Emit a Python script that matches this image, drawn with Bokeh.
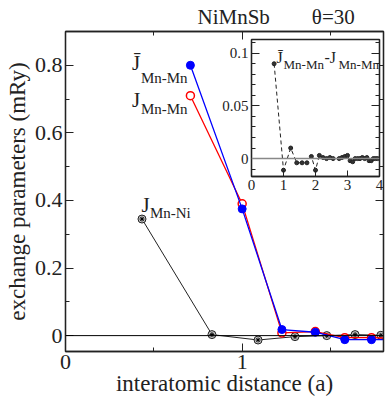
from bokeh.plotting import figure
from bokeh.models import (Range1d, LinearAxis, FixedTicker, Label, Span, Column)
from bokeh.embed import file_html
from bokeh.resources import INLINE

# ---------------- data ----------------
mnmn_dist = [0.707, 1.0, 1.225, 1.414, 1.581, 1.732, 1.871]
jbar_mnmn = [0.800, 0.375, 0.018, 0.010, -0.012, -0.012, -0.012]
j_mnmn = [0.710, 0.390, 0.008, 0.012, -0.006, -0.006, -0.008]

mnni_dist = [0.433, 0.829, 1.090, 1.299, 1.479, 1.639, 1.785, 1.920]
j_mnni = [0.345, 0.003, -0.013, -0.003, 0.000, 0.003, 0.001, 0.000]

diff_dist = [0.707, 1.0, 1.225, 1.414, 1.581, 1.732, 1.871, 2.0, 2.121, 2.236,
             2.345, 2.449, 2.55, 2.739, 2.828, 2.915, 3.0, 3.082, 3.162, 3.24,
             3.317, 3.391, 3.464, 3.536, 3.606, 3.674, 3.742, 3.808, 3.873, 3.937]
diff_j = [0.090, -0.011, 0.010, -0.004, -0.004, -0.004, 0.002, -0.011, 0.003, 0.001,
          0.000, 0.001, 0.000, 0.000, 0.001, 0.002, 0.003, -0.002, -0.003, 0.000,
          0.000, 0.000, 0.001, 0.000, 0.001, -0.002, -0.002, 0.000, 0.000, 0.000]

main_x_ticks = [0, 1]
main_x_labels = ["0", "1"]
main_x_minor = [0.5, 1.5]
main_y_ticks = [0, 0.2, 0.4, 0.6, 0.8]
main_y_labels = ["0", "0.2", "0.4", "0.6", "0.8"]
main_y_minor = [0.1, 0.3, 0.5, 0.7]

ins_x_ticks = [0, 1, 2, 3, 4]
ins_x_labels = ["0", "1", "2", "3", "4"]
ins_y_ticks = [0, 0.05, 0.1]
ins_y_labels = ["0", "0.05", "0.1"]
ins_y_minor = [-0.01, 0.01, 0.02, 0.03, 0.04, 0.06, 0.07, 0.08, 0.09, 0.11]

FONT = "Liberation Serif"
INK = "#222222"


def style(ax, ticks, labels, minor, size, tin, mtin, show=True):
    ax.ticker = FixedTicker(ticks=ticks, minor_ticks=minor)
    ax.major_label_overrides = {t: (l if show else "") for t, l in zip(ticks, labels)}
    ax.major_tick_in = tin
    ax.major_tick_out = 0
    ax.minor_tick_in = mtin
    ax.minor_tick_out = 0
    ax.axis_line_color = INK
    ax.axis_line_width = 1.3
    ax.major_tick_line_color = INK
    ax.minor_tick_line_color = INK
    ax.major_label_text_font = FONT
    ax.major_label_text_font_style = "normal"
    ax.major_label_text_color = INK
    if show:
        ax.major_label_text_font_size = size
        ax.major_label_standoff = 3
    else:
        ax.major_label_text_font_size = "1px"
        ax.major_label_standoff = 0


# ---------------- main plot ----------------
p = figure(width=388, height=405, x_range=Range1d(0, 1.8), y_range=Range1d(-0.047, 0.9),
           output_backend="svg", toolbar_location=None,
           min_border_left=65, min_border_right=3, min_border_top=29, min_border_bottom=54)
p.grid.visible = False
p.outline_line_color = INK
p.outline_line_width = 1.3
p.background_fill_color = "white"
p.border_fill_color = "white"

p.title.text = "NiMnSb" + "\u00a0" * 8 + "\u03b8=30"
p.title.text_font = FONT
p.title.text_font_size = "21px"
p.title.text_font_style = "normal"
p.title.text_color = INK
p.title.align = "left"
p.title.offset = 132
p.title.standoff = 5

style(p.xaxis[0], main_x_ticks, main_x_labels, main_x_minor, "22px", 8, 4)
style(p.yaxis[0], main_y_ticks, main_y_labels, main_y_minor, "22px", 8, 4)
for ax, txt, so in ((p.xaxis[0], "interatomic distance (a)", -1),
                    (p.yaxis[0], "exchange parameters (mRy)", 2)):
    ax.axis_label = txt
    ax.axis_label_text_font = FONT
    ax.axis_label_text_font_size = "23px"
    ax.axis_label_text_font_style = "normal"
    ax.axis_label_text_color = INK
    ax.axis_label_standoff = so

top_ax = LinearAxis()
style(top_ax, main_x_ticks, main_x_labels, main_x_minor, "22px", 8, 4, show=False)
p.add_layout(top_ax, "above")
right_ax = LinearAxis()
style(right_ax, main_y_ticks, main_y_labels, main_y_minor, "22px", 8, 4, show=False)
p.add_layout(right_ax, "right")

p.add_layout(Span(location=0, dimension="width", line_color="black", line_width=1))

p.line(mnni_dist, j_mnni, line_color=INK, line_width=1)
p.scatter(mnni_dist, j_mnni, marker="circle", size=8, fill_color="#c8c8c8",
          line_color=INK, line_width=1)
p.scatter(mnni_dist, j_mnni, marker="asterisk", size=5, line_color="black", line_width=1)

p.line(mnmn_dist, j_mnmn, line_color="#ff0000", line_width=1.3)
p.scatter(mnmn_dist, j_mnmn, marker="circle", size=8, fill_color="white",
          line_color="#ff0000", line_width=1.5)

p.line(mnmn_dist, jbar_mnmn, line_color="#0000ff", line_width=1.3)
p.scatter(mnmn_dist, jbar_mnmn, marker="circle", size=8, fill_color="#0000ff",
          line_color="#0000ff")


def lab(fig, x, y, text, size, **kw):
    fig.add_layout(Label(x=x, y=y, text=text, text_font=FONT, text_font_size=size,
                         text_color=INK, text_baseline="alphabetic", **kw))


lab(p, 0.376, 0.806, "J\u0304", "21px")
lab(p, 0.427, 0.762, "Mn-Mn", "15px")
lab(p, 0.376, 0.697, "J", "21px")
lab(p, 0.427, 0.671, "Mn-Mn", "15px")
lab(p, 0.430, 0.388, "J", "21px")
lab(p, 0.478, 0.362, "Mn-Ni", "15px")

# ---------------- inset ----------------
ins = figure(frame_width=128, frame_height=137,
             x_range=Range1d(0, 4), y_range=Range1d(-0.017, 0.113),
             output_backend="svg", toolbar_location=None,
             min_border_left=64, min_border_right=5, min_border_top=9, min_border_bottom=50)
ins.grid.visible = False
ins.outline_line_color = INK
ins.outline_line_width = 1.3
ins.background_fill_color = "white"
ins.border_fill_alpha = 0
ins.styles = {"position": "absolute", "left": "186px", "top": "30px"}

style(ins.xaxis[0], ins_x_ticks, ins_x_labels, [], "15px", 6, 3)
style(ins.yaxis[0], ins_y_ticks, ins_y_labels, ins_y_minor, "15px", 8, 4)
ins_r = LinearAxis()
style(ins_r, ins_y_ticks, ins_y_labels, ins_y_minor, "15px", 8, 4, show=False)
ins.add_layout(ins_r, "right")

ins.add_layout(Span(location=0, dimension="width", line_color="#888888", line_width=1.5))
ins.line(diff_dist, diff_j, line_color=INK, line_width=1, line_dash="4 3")
ins.scatter(diff_dist, diff_j, marker="circle", size=4, fill_color="#333333",
            line_color=INK)

lab(ins, 0.78, 0.0958, "J\u0304", "16px")
lab(ins, 1.0, 0.0892, "Mn-Mn", "13px")
lab(ins, 2.28, 0.0958, "-J", "16px")
lab(ins, 2.72, 0.0892, "Mn-Mn", "13px")

root = Column(p, ins)
open("out.html", "w").write(file_html(root, INLINE))
